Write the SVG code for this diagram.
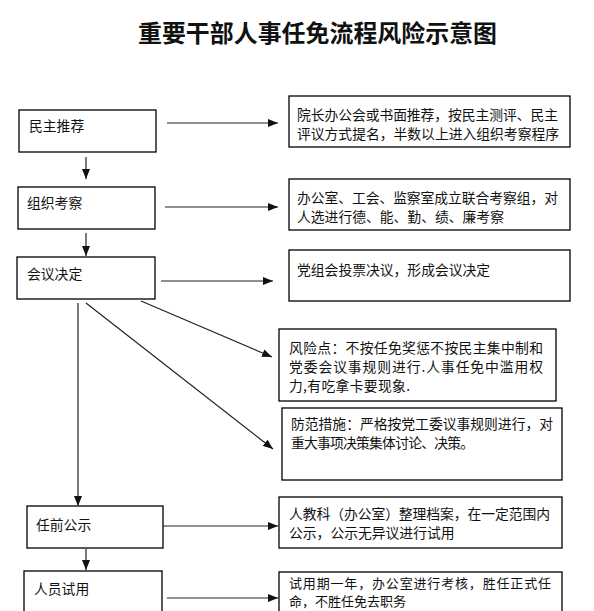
<svg xmlns="http://www.w3.org/2000/svg" width="594" height="611" viewBox="0 0 594 611">
<style>
.box{fill:#fff;stroke:#000;stroke-width:1.3}
.t{font-family:"Noto Sans CJK SC","Noto Sans",sans-serif;font-size:13.8px;fill:#111}
.s{font-size:13px}
.title{font-family:"Noto Sans CJK SC","Noto Sans",sans-serif;font-size:24px;font-weight:700;fill:#111}
.c{stroke:#222;stroke-width:1.2;fill:none}
.g{stroke:#555;stroke-width:1.6;fill:none}
</style>
<defs>
<marker id="ah" markerWidth="10" markerHeight="8" refX="10" refY="4" orient="auto" markerUnits="userSpaceOnUse">
<path d="M0,0 L10,4 L0,8 z" fill="#111"/>
</marker>
</defs>
<rect width="594" height="611" fill="#fff"/>
<text class="title" x="138" y="42" textLength="359" lengthAdjust="spacingAndGlyphs">重要干部人事任免流程风险示意图</text>

<g id="n-minzhu"><rect class="box" x="19" y="110" width="137" height="42"/><text class="t" x="29" y="131">民主推荐</text></g>
<g id="n-zuzhi"><rect class="box" x="18" y="187" width="137" height="42"/><text class="t" x="27" y="208">组织考察</text></g>
<g id="n-huiyi"><rect class="box" x="17" y="257" width="138" height="42"/><text class="t" x="27" y="279">会议决定</text></g>
<g id="n-renqian"><rect class="box" x="27" y="506" width="136" height="42"/><text class="t" x="36" y="530">任前公示</text></g>
<g id="n-renyuan"><rect class="box" x="24" y="571" width="138" height="50"/><text class="t" x="34" y="594">人员试用</text></g>

<g id="d-minzhu"><rect class="box" x="289" y="96" width="281" height="51"/>
<text class="t" x="297" y="120" textLength="261">院长办公会或书面推荐，按民主测评、民主</text>
<text class="t" x="297" y="139" textLength="262">评议方式提名，半数以上进入组织考察程序</text></g>
<g id="d-zuzhi"><rect class="box" x="289" y="179" width="281" height="51"/>
<text class="t" x="297" y="203" textLength="261">办公室、工会、监察室成立联合考察组，对</text>
<text class="t" x="297" y="222">人选进行德、能、勤、绩、廉考察</text></g>
<g id="d-huiyi"><rect class="box" x="289" y="250" width="281" height="51"/>
<text class="t" x="297" y="275">党组会投票决议，形成会议决定</text></g>
<g id="d-risk"><rect class="box" x="279" y="329" width="277" height="72"/>
<text class="t" x="289" y="353" textLength="254">风险点：不按任免奖惩不按民主集中制和</text>
<text class="t" x="289" y="372" textLength="254">党委会议事规则进行.人事任免中滥用权</text>
<text class="t" x="289" y="391" textLength="121">力,有吃拿卡要现象.</text></g>
<g id="d-prevent"><rect class="box" x="282" y="408" width="280" height="72"/>
<text class="t" x="291" y="429" textLength="262">防范措施：严格按党工委议事规则进行，对</text>
<text class="t" x="291" y="448" textLength="183">重大事项决策集体讨论、决策。</text></g>
<g id="d-renqian"><rect class="box" x="279" y="497" width="283" height="51"/>
<text class="t" x="289" y="519" textLength="261">人教科（办公室）整理档案，在一定范围内</text>
<text class="t" x="289" y="538">公示，公示无异议进行试用</text></g>
<g id="d-renyuan"><rect class="box" x="279" y="572" width="283" height="50"/>
<text class="t s" x="289" y="588" textLength="262">试用期一年，办公室进行考核，胜任正式任</text>
<text class="t s" x="289" y="606">命，不胜任免去职务</text></g>

<g id="connectors">
<line class="c" x1="167" y1="123" x2="278" y2="123" marker-end="url(#ah)"/>
<line class="c" x1="165" y1="207" x2="278" y2="207" marker-end="url(#ah)"/>
<line class="c" x1="161" y1="281" x2="273" y2="281" marker-end="url(#ah)"/>
<line class="c" x1="163" y1="526" x2="278" y2="526" marker-end="url(#ah)"/>
<line class="c" x1="167" y1="598" x2="278" y2="598" marker-end="url(#ah)"/>
<line class="c" x1="86" y1="157" x2="86" y2="179" marker-end="url(#ah)"/>
<line class="c" x1="86" y1="233" x2="86" y2="256" marker-end="url(#ah)"/>
<line class="g" x1="78" y1="303" x2="78" y2="506" marker-end="url(#ah)"/>
<line class="g" x1="86" y1="549" x2="86" y2="570" marker-end="url(#ah)"/>
<line class="c" x1="86" y1="303" x2="273" y2="449" marker-end="url(#ah)"/>
<line class="c" x1="141" y1="301" x2="272" y2="357" marker-end="url(#ah)"/>
</g>
</svg>
